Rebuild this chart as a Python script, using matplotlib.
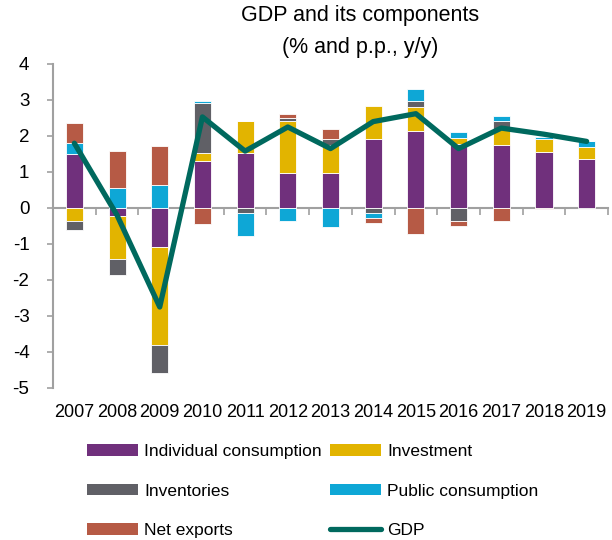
import numpy as np
import matplotlib
matplotlib.use("Agg")
import matplotlib.pyplot as plt
from matplotlib.patches import Patch
from matplotlib.lines import Line2D

plt.rcParams['font.family'] = ['Liberation Sans', 'DejaVu Sans']
plt.rcParams['axes.unicode_minus'] = False

years = ['2007', '2008', '2009', '2010', '2011', '2012', '2013',
         '2014', '2015', '2016', '2017', '2018', '2019']

# contributions, p.p.
individual = [1.50, -0.22, -1.08, 1.30, 1.53, 0.97, 0.98, 1.92, 2.14, 1.78, 1.75, 1.56, 1.36]
investment = [-0.36, -1.20, -2.72, 0.22, 0.89, 1.45, 0.77, 0.90, 0.66, 0.17, 0.45, 0.36, 0.33]
inventories = [-0.25, -0.45, -0.78, 1.40, -0.13, 0.08, 0.17, -0.14, 0.17, -0.37, 0.22, 0.00, 0.00]
public = [0.30, 0.55, 0.64, 0.05, -0.65, -0.37, -0.53, -0.14, 0.33, 0.15, 0.14, 0.06, 0.17]
net_exports = [0.55, 1.03, 1.08, -0.45, 0.00, 0.10, 0.27, -0.14, -0.72, -0.12, -0.37, -0.04, 0.00]
gdp = [1.80, -0.20, -2.75, 2.53, 1.58, 2.25, 1.65, 2.40, 2.62, 1.65, 2.22, 2.05, 1.85]

series = [
    ('Individual consumption', individual, '#70307C'),
    ('Investment', investment, '#E2B400'),
    ('Inventories', inventories, '#606066'),
    ('Public consumption', public, '#0EA7D6'),
    ('Net exports', net_exports, '#B65A45'),
]
gdp_col = '#00695E'
axis_col = '#A0A0A0'

fig = plt.figure(figsize=(6.12, 5.4), dpi=100)
ax = fig.add_axes([53/612, 1-388/540, 555/612, 324/540])

x = np.arange(len(years))
pos_base = np.zeros(len(years))
neg_base = np.zeros(len(years))
for name, vals, col in series:
    v = np.array(vals)
    bottom = np.where(v >= 0, pos_base, neg_base)
    ax.bar(x, v, 0.4, bottom=bottom, color=col, edgecolor='white', linewidth=0.6, zorder=2)
    pos_base += np.where(v >= 0, v, 0)
    neg_base += np.where(v < 0, v, 0)

ax.plot(x, gdp, color=gdp_col, lw=3.8, solid_capstyle='round', solid_joinstyle='round', zorder=4)

ax.set_xlim(-0.5, 12.5)
ax.set_ylim(-5, 4)
ax.set_yticks(range(-5, 5))
ax.tick_params(axis='y', length=4, width=1.2, color=axis_col, pad=13, labelsize=13.5)

# x axis drawn at zero, ticks between categories, labels at the bottom
ax.spines['bottom'].set_position(('data', 0))
ax.spines['bottom'].set_color(axis_col)
ax.spines['bottom'].set_linewidth(1.5)
ax.spines['bottom'].set_zorder(1)
ax.set_xticks(x)
ax.set_xticklabels(years)
ax.set_xticks(np.arange(-0.5, 13, 1), minor=True)
ax.tick_params(axis='x', which='major', length=0, pad=141, labelsize=13)
ax.tick_params(axis='x', which='minor', length=5, width=1.2, color=axis_col)
for s in ['top', 'right']:
    ax.spines[s].set_visible(False)
ax.spines['left'].set_color(axis_col)
ax.spines['left'].set_linewidth(1.5)

fig.text(360/612, 1-16/540, 'GDP and its components', ha='center', va='center', fontsize=15.5)
fig.text(360/612, 1-48/540, '(% and p.p., y/y)', ha='center', va='center', fontsize=15.5)

hand = {name: Patch(facecolor=col) for name, vals, col in series}
hand['GDP'] = Line2D([], [], color=gdp_col, lw=3.8, solid_capstyle='round')
order = ['Individual consumption', 'Inventories', 'Net exports',
         'Investment', 'Public consumption', 'GDP']
fig.legend([hand[k] for k in order], order, ncol=2, frameon=False,
           loc='upper left', bbox_to_anchor=(87/612, 1-444/540),
           borderaxespad=0, borderpad=0, fontsize=12.5,
           handlelength=2.95, handleheight=0.65, handletextpad=0.35,
           columnspacing=0.46, labelspacing=1.42)

fig.savefig('out.png', dpi=100)
